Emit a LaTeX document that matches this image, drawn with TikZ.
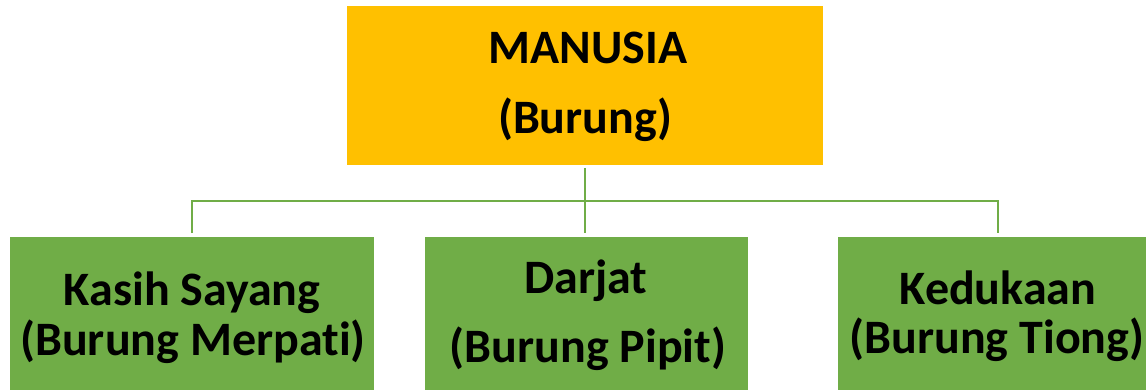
\documentclass[tikz,border=0pt]{standalone}
\usepackage{fontspec}
\setmainfont{Carlito}[Ligatures=NoCommon]
\definecolor{gold}{HTML}{FFC000}
\definecolor{leaf}{HTML}{70AD47}
\begin{document}
\begin{tikzpicture}[x=1pt,y=-1pt,
  boxbase/.style={rectangle, inner sep=0pt, anchor=north west, draw=none},
  topbox/.style={boxbase, fill=gold},
  leafbox/.style={boxbase, fill=leaf},
  bigtxt/.style={anchor=base, inner sep=0pt, font=\fontsize{48}{56}\selectfont\bfseries},
  txt/.style={anchor=base, inner sep=0pt, font=\fontsize{48}{56}\selectfont\bfseries},
  conn/.style={draw=leaf, line width=2.5pt}]
\useasboundingbox (0,0) rectangle (1146,389);
\clip (0,0) rectangle (1146,389);
\fill[white] (0,0) rectangle (1146,389);
\node[topbox, minimum width=476pt, minimum height=159pt] (top) at (347,6) {};
\node[leafbox, minimum width=364pt, minimum height=170pt] (left) at (10,237) {};
\node[leafbox, minimum width=323pt, minimum height=170pt] (mid) at (425,237) {};
\node[leafbox, minimum width=320pt, minimum height=170pt] (right) at (838,237) {};
\node[bigtxt] (t1) at (588,63) {MANUSIA};
\node[bigtxt] (t2) at (585,133) {(Burung)};
\node[txt] (l1) at (192,305) {Kasih Sayang};
\node[txt] (l2) at (193,355) {(Burung Merpati)};
\node[txt] (m1) at (586,293) {Darjat};
\node[txt] (m2) at (588,362) {(Burung Pipit)};
\node[txt] (r1) at (998,304) {Kedukaan};
\node[txt] (r2) at (997,353) {(Burung Tiong)};
\coordinate (bus) at (585,201);
\draw[conn] ([yshift=-3pt]top.south) -- ([yshift=4pt]top.south |- mid.north);
\draw[conn] ([yshift=4pt]left.north) -- (left.north |- bus) -- (right.north |- bus) -- ([yshift=4pt]right.north);
\end{tikzpicture}
\end{document}
